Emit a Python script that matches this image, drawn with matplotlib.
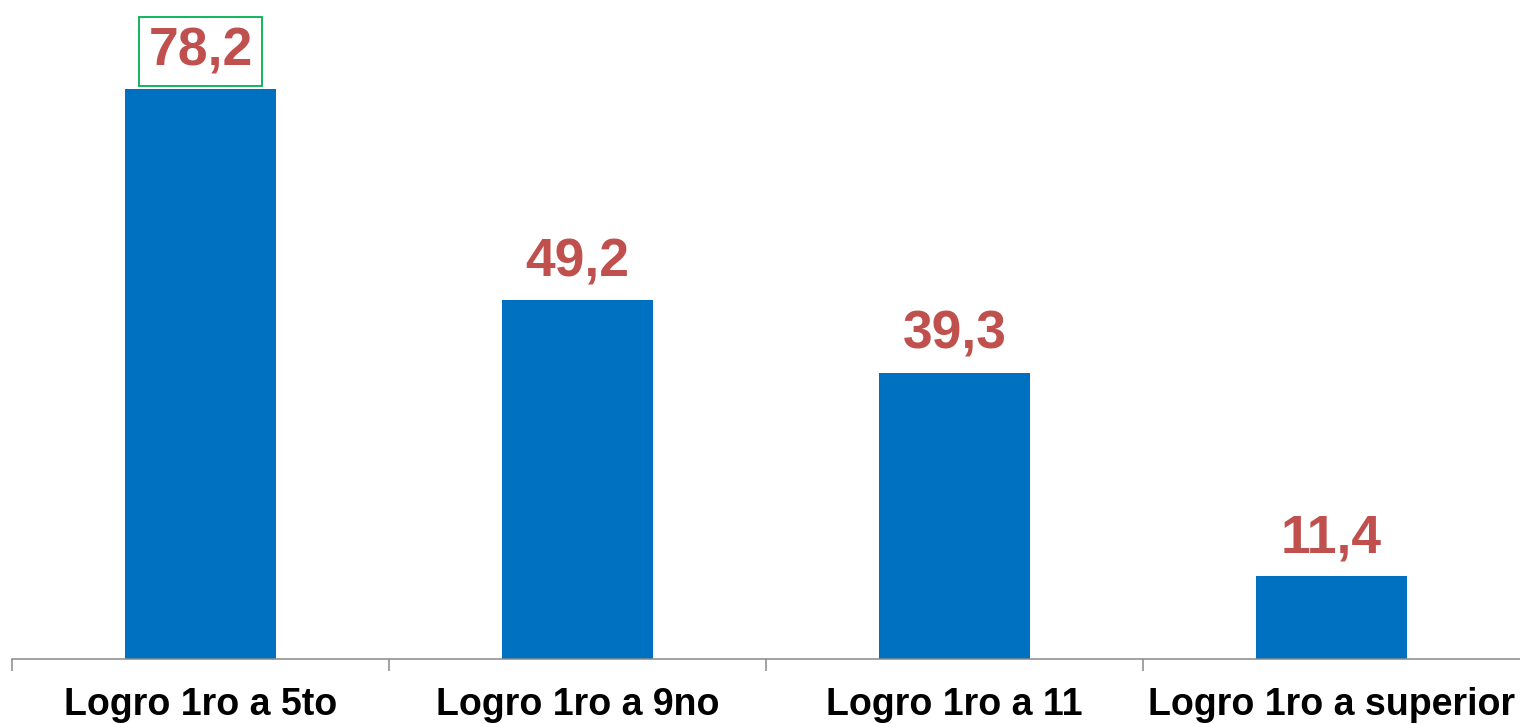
import matplotlib.pyplot as plt
import numpy as np

# data
categories = ["Logro 1ro a 5to", "Logro 1ro a 9no", "Logro 1ro a 11", "Logro 1ro a superior"]
values = [78.2, 49.2, 39.3, 11.4]
labels = ["78,2", "49,2", "39,3", "11,4"]

plt.rcParams['font.family'] = ['Liberation Sans', 'DejaVu Sans']

fig = plt.figure(figsize=(15.2, 7.24), dpi=100)
ax = fig.add_axes([12 / 1520, 65 / 724, 1508 / 1520, 659 / 724])

x = np.arange(len(categories))
ax.bar(x, values, width=0.4, color='#0070C0')

for i, (v, lab) in enumerate(zip(values, labels)):
    t = ax.annotate(lab, (x[i], v), xytext=(0, 17), textcoords='offset points',
                    ha='center', va='baseline', fontsize=38.5, fontweight='bold',
                    color='#C0504D')
    if i == 0:
        t.set_bbox(dict(boxstyle='square,pad=0.178', fc='none', ec='#00B050', lw=1.3))

ax.set_xlim(-0.5, 3.5)
ax.set_ylim(0, 659 / (570 / 78.2))

# category boundaries as ticks, names as minor ticks
ax.set_xticks(np.arange(-0.5, 3.5, 1.0))
ax.set_xticklabels([])
ax.set_xticks(x, minor=True)
ax.set_xticklabels(categories, minor=True, fontsize=27, fontweight='bold')
ax.tick_params(axis='x', which='major', length=8.6, width=1.1, color='#898989', direction='out')
ax.tick_params(axis='x', which='minor', length=0, pad=20)
ax.set_yticks([])

for s in ['top', 'right', 'left']:
    ax.spines[s].set_visible(False)
ax.spines['bottom'].set_color('#898989')
ax.spines['bottom'].set_linewidth(1.1)

fig.savefig('out.png', dpi=100)
